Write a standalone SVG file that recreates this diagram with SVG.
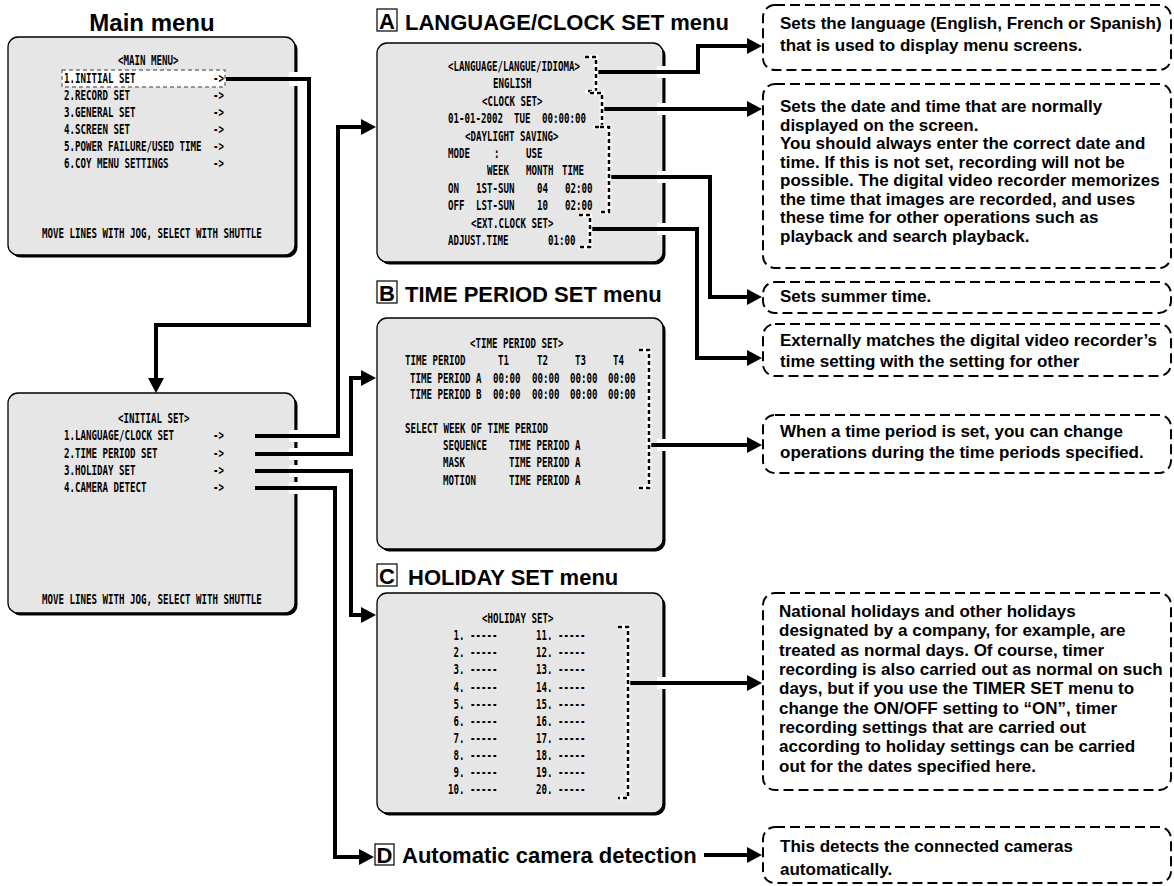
<svg xmlns="http://www.w3.org/2000/svg" width="1174" height="886" viewBox="0 0 1174 886">
<defs>
<marker id="ah" markerUnits="userSpaceOnUse" markerWidth="15" markerHeight="16" viewBox="0 0 15 16" refX="8" refY="8" orient="auto"><path d="M0,0 L15,8 L0,16 z" fill="#000"/></marker>
</defs>
<style>
.o{font-family:"DejaVu Sans Mono",monospace;font-weight:bold;font-size:13.5px;fill:#000}
.t{font-family:"Liberation Sans",Arial,sans-serif;font-weight:bold;font-size:22px;fill:#000}
.d{font-family:"Liberation Sans",Arial,sans-serif;font-weight:bold;font-size:17px;fill:#000}
.scr{fill:#e6e6e6;stroke:#000;stroke-width:1.3}
.sh{fill:#000}
.dash{fill:#fff;stroke:#000;stroke-width:2;stroke-dasharray:10 5}
.br{fill:none;stroke:#fff;stroke-width:4.5}
.brd{fill:none;stroke:#000;stroke-width:2.5;stroke-dasharray:4 3}
.c{fill:none;stroke:#000;stroke-width:4}
.halo{fill:#fff}
.lb{fill:#fff;stroke:#000;stroke-width:1.2}
</style>
<rect width="1174" height="886" fill="#fff"/>

<g id="node-main">
<text class="t" x="152" y="31" text-anchor="middle" style="font-size:24px">Main menu</text>
<rect class="sh" x="10.5" y="39.5" width="287" height="218" rx="10"/>
<rect class="scr" x="8" y="37" width="287" height="218" rx="10"/>
<rect x="62" y="70" width="163" height="17" fill="#fff" stroke="#777" stroke-width="1.4" stroke-dasharray="4 3"/>
<text class="o" transform="translate(118,65) scale(0.677,1)">&lt;MAIN MENU&gt;</text>
<text class="o" transform="translate(64,83) scale(0.677,1)">1.INITIAL SET</text>
<text class="o" transform="translate(64,100) scale(0.677,1)">2.RECORD SET</text>
<text class="o" transform="translate(64,117) scale(0.677,1)">3.GENERAL SET</text>
<text class="o" transform="translate(64,134) scale(0.677,1)">4.SCREEN SET</text>
<text class="o" transform="translate(64,151) scale(0.677,1)">5.POWER FAILURE/USED TIME</text>
<text class="o" transform="translate(64,168) scale(0.677,1)">6.COY MENU SETTINGS</text>
<text class="o" transform="translate(213,83) scale(0.677,1)">-&gt;</text>
<text class="o" transform="translate(213,100) scale(0.677,1)">-&gt;</text>
<text class="o" transform="translate(213,117) scale(0.677,1)">-&gt;</text>
<text class="o" transform="translate(213,134) scale(0.677,1)">-&gt;</text>
<text class="o" transform="translate(213,151) scale(0.677,1)">-&gt;</text>
<text class="o" transform="translate(213,168) scale(0.677,1)">-&gt;</text>
<text class="o" transform="translate(42,238) scale(0.677,1)">MOVE LINES WITH JOG, SELECT WITH SHUTTLE</text>
</g>

<g id="node-initial">
<rect class="sh" x="10.5" y="395.5" width="287" height="220" rx="10"/>
<rect class="scr" x="8" y="393" width="287" height="220" rx="10"/>
<text class="o" transform="translate(118,423) scale(0.677,1)">&lt;INITIAL SET&gt;</text>
<text class="o" transform="translate(64,440) scale(0.677,1)">1.LANGUAGE/CLOCK SET</text>
<text class="o" transform="translate(64,458) scale(0.677,1)">2.TIME PERIOD SET</text>
<text class="o" transform="translate(64,475) scale(0.677,1)">3.HOLIDAY SET</text>
<text class="o" transform="translate(64,492) scale(0.677,1)">4.CAMERA DETECT</text>
<text class="o" transform="translate(213,440) scale(0.677,1)">-&gt;</text>
<text class="o" transform="translate(213,458) scale(0.677,1)">-&gt;</text>
<text class="o" transform="translate(213,475) scale(0.677,1)">-&gt;</text>
<text class="o" transform="translate(213,492) scale(0.677,1)">-&gt;</text>
<text class="o" transform="translate(42,604) scale(0.677,1)">MOVE LINES WITH JOG, SELECT WITH SHUTTLE</text>
</g>

<g id="node-a">
<rect class="lb" x="377" y="9" width="20" height="22"/>
<text class="t" x="387" y="29" text-anchor="middle">A</text>
<text class="t" x="405" y="30">LANGUAGE/CLOCK SET menu</text>
<rect class="sh" x="379.5" y="45.5" width="286" height="219" rx="10"/>
<rect class="scr" x="377" y="43" width="286" height="219" rx="10"/>
<text class="o" transform="translate(448,71) scale(0.677,1)">&lt;LANGUAGE/LANGUE/IDIOMA&gt;</text>
<text class="o" transform="translate(493,88.4) scale(0.677,1)">ENGLISH</text>
<text class="o" transform="translate(482,105.8) scale(0.677,1)">&lt;CLOCK SET&gt;</text>
<text class="o" transform="translate(448,123.2) scale(0.677,1)">01-01-2002</text>
<text class="o" transform="translate(514,123.2) scale(0.677,1)">TUE</text>
<text class="o" transform="translate(542,123.2) scale(0.677,1)">00:00:00</text>
<text class="o" transform="translate(465,140.6) scale(0.677,1)">&lt;DAYLIGHT SAVING&gt;</text>
<text class="o" transform="translate(448,158) scale(0.677,1)">MODE</text>
<text class="o" transform="translate(494,158) scale(0.677,1)">:</text>
<text class="o" transform="translate(526,158) scale(0.677,1)">USE</text>
<text class="o" transform="translate(487,175.4) scale(0.677,1)">WEEK</text>
<text class="o" transform="translate(526,175.4) scale(0.677,1)">MONTH</text>
<text class="o" transform="translate(562,175.4) scale(0.677,1)">TIME</text>
<text class="o" transform="translate(448,192.8) scale(0.677,1)">ON</text>
<text class="o" transform="translate(476,192.8) scale(0.677,1)">1ST-SUN</text>
<text class="o" transform="translate(537,192.8) scale(0.677,1)">04</text>
<text class="o" transform="translate(565,192.8) scale(0.677,1)">02:00</text>
<text class="o" transform="translate(448,210.2) scale(0.677,1)">OFF</text>
<text class="o" transform="translate(476,210.2) scale(0.677,1)">LST-SUN</text>
<text class="o" transform="translate(537,210.2) scale(0.677,1)">10</text>
<text class="o" transform="translate(565,210.2) scale(0.677,1)">02:00</text>
<text class="o" transform="translate(471,227.6) scale(0.677,1)">&lt;EXT.CLOCK SET&gt;</text>
<text class="o" transform="translate(448,245) scale(0.677,1)">ADJUST.TIME</text>
<text class="o" transform="translate(548,245) scale(0.677,1)">01:00</text>
</g>

<g id="node-b">
<rect class="lb" x="377" y="281" width="20" height="22"/>
<text class="t" x="387" y="301" text-anchor="middle">B</text>
<text class="t" x="405" y="302">TIME PERIOD SET menu</text>
<rect class="sh" x="379.5" y="320.5" width="286" height="231" rx="10"/>
<rect class="scr" x="377" y="318" width="286" height="231" rx="10"/>
<text class="o" transform="translate(470,348) scale(0.677,1)">&lt;TIME PERIOD SET&gt;</text>
<text class="o" transform="translate(405,365) scale(0.677,1)">TIME PERIOD</text>
<text class="o" transform="translate(498,365) scale(0.677,1)">T1</text>
<text class="o" transform="translate(537,365) scale(0.677,1)">T2</text>
<text class="o" transform="translate(575,365) scale(0.677,1)">T3</text>
<text class="o" transform="translate(613,365) scale(0.677,1)">T4</text>
<text class="o" transform="translate(410,383) scale(0.677,1)">TIME PERIOD A</text>
<text class="o" transform="translate(493,383) scale(0.677,1)">00:00</text>
<text class="o" transform="translate(532,383) scale(0.677,1)">00:00</text>
<text class="o" transform="translate(570,383) scale(0.677,1)">00:00</text>
<text class="o" transform="translate(608,383) scale(0.677,1)">00:00</text>
<text class="o" transform="translate(410,399) scale(0.677,1)">TIME PERIOD B</text>
<text class="o" transform="translate(493,399) scale(0.677,1)">00:00</text>
<text class="o" transform="translate(532,399) scale(0.677,1)">00:00</text>
<text class="o" transform="translate(570,399) scale(0.677,1)">00:00</text>
<text class="o" transform="translate(608,399) scale(0.677,1)">00:00</text>
<text class="o" transform="translate(405,433) scale(0.677,1)">SELECT WEEK OF TIME PERIOD</text>
<text class="o" transform="translate(443,450) scale(0.677,1)">SEQUENCE</text>
<text class="o" transform="translate(509,450) scale(0.677,1)">TIME PERIOD A</text>
<text class="o" transform="translate(443,467) scale(0.677,1)">MASK</text>
<text class="o" transform="translate(509,467) scale(0.677,1)">TIME PERIOD A</text>
<text class="o" transform="translate(443,485) scale(0.677,1)">MOTION</text>
<text class="o" transform="translate(509,485) scale(0.677,1)">TIME PERIOD A</text>
</g>

<g id="node-c">
<rect class="lb" x="377" y="564" width="20" height="22"/>
<text class="t" x="387" y="584" text-anchor="middle">C</text>
<text class="t" x="408" y="585">HOLIDAY SET menu</text>
<rect class="sh" x="379.5" y="595.5" width="286" height="220" rx="10"/>
<rect class="scr" x="377" y="593" width="286" height="220" rx="10"/>
<text class="o" transform="translate(482,623) scale(0.677,1)">&lt;HOLIDAY SET&gt;</text>
<text class="o" transform="translate(453.5,640) scale(0.677,1)">1. -----</text>
<text class="o" transform="translate(453.5,657.2) scale(0.677,1)">2. -----</text>
<text class="o" transform="translate(453.5,674.3) scale(0.677,1)">3. -----</text>
<text class="o" transform="translate(453.5,691.5) scale(0.677,1)">4. -----</text>
<text class="o" transform="translate(453.5,708.6) scale(0.677,1)">5. -----</text>
<text class="o" transform="translate(453.5,725.8) scale(0.677,1)">6. -----</text>
<text class="o" transform="translate(453.5,742.9) scale(0.677,1)">7. -----</text>
<text class="o" transform="translate(453.5,760.1) scale(0.677,1)">8. -----</text>
<text class="o" transform="translate(453.5,777.2) scale(0.677,1)">9. -----</text>
<text class="o" transform="translate(448,794.4) scale(0.677,1)">10. -----</text>
<text class="o" transform="translate(536,640) scale(0.677,1)">11. -----</text>
<text class="o" transform="translate(536,657.2) scale(0.677,1)">12. -----</text>
<text class="o" transform="translate(536,674.3) scale(0.677,1)">13. -----</text>
<text class="o" transform="translate(536,691.5) scale(0.677,1)">14. -----</text>
<text class="o" transform="translate(536,708.6) scale(0.677,1)">15. -----</text>
<text class="o" transform="translate(536,725.8) scale(0.677,1)">16. -----</text>
<text class="o" transform="translate(536,742.9) scale(0.677,1)">17. -----</text>
<text class="o" transform="translate(536,760.1) scale(0.677,1)">18. -----</text>
<text class="o" transform="translate(536,777.2) scale(0.677,1)">19. -----</text>
<text class="o" transform="translate(536,794.4) scale(0.677,1)">20. -----</text>
</g>

<g id="node-d">
<rect class="lb" x="375" y="844" width="19" height="21"/>
<text class="t" x="384.5" y="863" text-anchor="middle">D</text>
<text class="t" x="402" y="863">Automatic camera detection</text>
</g>

<g id="notes">
<g id="note-1">
<rect class="dash" x="763" y="5" width="408" height="65" rx="12"/>
<text class="d" x="780" y="29">Sets the language (English, French or Spanish)</text>
<text class="d" x="780" y="51">that is used to display menu screens.</text>
</g>
<g id="note-2">
<rect class="dash" x="763" y="84" width="408" height="184" rx="12"/>
<text class="d" x="780" y="112">Sets the date and time that are normally</text>
<text class="d" x="780" y="130.6">displayed on the screen.</text>
<text class="d" x="780" y="149.1">You should always enter the correct date and</text>
<text class="d" x="780" y="167.7">time. If this is not set, recording will not be</text>
<text class="d" x="780" y="186.3">possible. The digital video recorder memorizes</text>
<text class="d" x="780" y="204.9">the time that images are recorded, and uses</text>
<text class="d" x="780" y="223.4">these time for other operations such as</text>
<text class="d" x="780" y="242">playback and search playback.</text>
</g>
<g id="note-3">
<rect class="dash" x="763" y="282" width="408" height="31" rx="12"/>
<text class="d" x="780" y="302">Sets summer time.</text>
</g>
<g id="note-4">
<rect class="dash" x="763" y="324" width="408" height="52" rx="12"/>
<text class="d" x="780" y="346">Externally matches the digital video recorder’s</text>
<text class="d" x="780" y="367">time setting with the setting for other</text>
</g>
<g id="note-5">
<rect class="dash" x="763" y="415" width="408" height="58" rx="12"/>
<text class="d" x="780" y="437">When a time period is set, you can change</text>
<text class="d" x="780" y="458">operations during the time periods specified.</text>
</g>
<g id="note-6">
<rect class="dash" x="763" y="593" width="408" height="197" rx="12"/>
<text class="d" x="779" y="617">National holidays and other holidays</text>
<text class="d" x="779" y="636.3">designated by a company, for example, are</text>
<text class="d" x="779" y="655.7">treated as normal days. Of course, timer</text>
<text class="d" x="779" y="675">recording is also carried out as normal on such</text>
<text class="d" x="779" y="694.3">days, but if you use the TIMER SET menu to</text>
<text class="d" x="779" y="713.7">change the ON/OFF setting to “ON”, timer</text>
<text class="d" x="779" y="733">recording settings that are carried out</text>
<text class="d" x="779" y="752.3">according to holiday settings can be carried</text>
<text class="d" x="779" y="771.7">out for the dates specified here.</text>
</g>
<g id="note-7">
<rect class="dash" x="763" y="827" width="408" height="56" rx="12"/>
<text class="d" x="780" y="852">This detects the connected cameras</text>
<text class="d" x="780" y="875">automatically.</text>
</g>
</g>

<g id="connectors">
<g class="halo">
<rect x="289" y="72" width="12" height="14"/>
<rect x="289" y="430" width="12" height="12"/>
<rect x="289" y="448" width="12" height="12"/>
<rect x="289" y="465" width="12" height="12"/>
<rect x="289" y="482" width="12" height="12"/>
<rect x="657" y="66" width="12" height="12"/>
<rect x="657" y="103" width="12" height="12"/>
<rect x="657" y="171" width="12" height="12"/>
<rect x="657" y="223" width="12" height="12"/>
<rect x="657" y="439" width="12" height="12"/>
<rect x="657" y="677" width="12" height="12"/>
</g>
<path class="c" d="M226,79 H309 V325 H156 V386" marker-end="url(#ah)"/>
<path class="c" d="M255,436 H338 V127 H369" marker-end="url(#ah)"/>
<path class="c" d="M255,454 H351 V378 H369" marker-end="url(#ah)"/>
<path class="c" d="M255,471 H351 V615 H369" marker-end="url(#ah)"/>
<path class="c" d="M255,488 H335 V857 H367" marker-end="url(#ah)"/>
<path class="c" d="M597,72 H698 V46 H755" marker-end="url(#ah)"/>
<path class="c" d="M602,109 H755" marker-end="url(#ah)"/>
<path class="c" d="M609,177 H710 V297 H755" marker-end="url(#ah)"/>
<path class="c" d="M590,229 H697 V358 H755" marker-end="url(#ah)"/>
<path class="c" d="M650,445 H755" marker-end="url(#ah)"/>
<path class="c" d="M629,683 H755" marker-end="url(#ah)"/>
<path class="c" d="M704,855 H755" marker-end="url(#ah)"/>
<g id="brackets">
<path class="br" d="M585,57 H596 V91 H585"/><path class="brd" d="M585,57 H596 V91 H585"/>
<path class="br" d="M590,93 H602 V127 H593"/><path class="brd" d="M590,93 H602 V127 H593"/>
<path class="br" d="M600,127 H609 V212 H600"/><path class="brd" d="M600,127 H609 V212 H600"/>
<path class="br" d="M579,215 H590 V247 H579"/><path class="brd" d="M579,215 H590 V247 H579"/>
<path class="br" d="M639,350 H649 V488 H639"/><path class="brd" d="M639,350 H649 V488 H639"/>
<path class="br" d="M618,627 H628 V798 H618"/><path class="brd" d="M618,627 H628 V798 H618"/>
</g>
</g>
</svg>
